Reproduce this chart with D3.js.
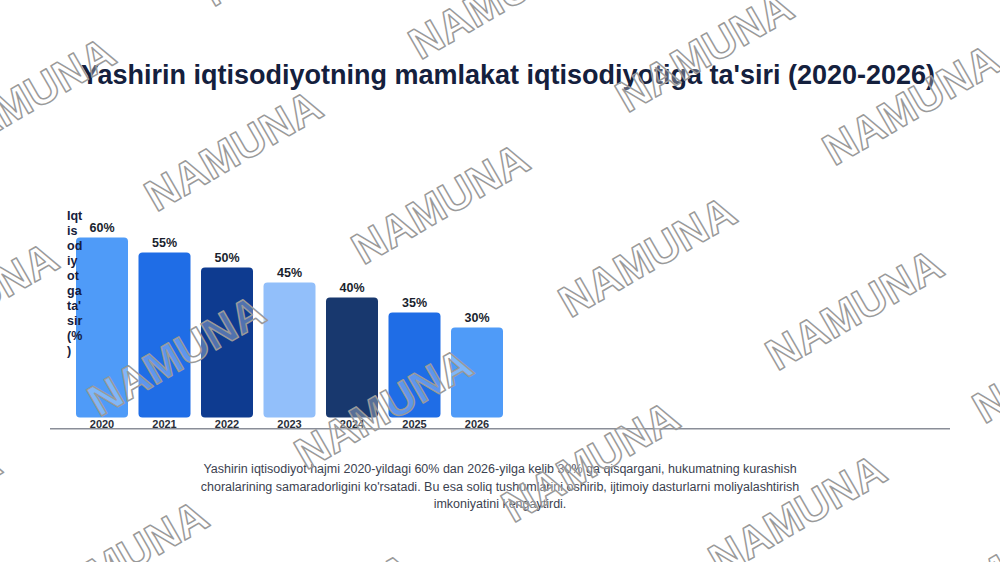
<!DOCTYPE html>
<html>
<head>
<meta charset="utf-8">
<script src="https://cdn.jsdelivr.net/npm/d3@7"></script>
<style>
  html, body { margin: 0; padding: 0; background: #ffffff; }
  svg { display: block; }
</style>
</head>
<body>
<svg id="chart" width="1000" height="562"></svg>
<script>
// ---- data ----
const categories = ["2020", "2021", "2022", "2023", "2024", "2025", "2026"];
const values = [60, 55, 50, 45, 40, 35, 30];
const barColors = ["#4f9bf8", "#1f6de6", "#0e3b90", "#92bffa", "#18386e", "#1f6de6", "#4f9bf8"];
const titleText = "Yashirin iqtisodiyotning mamlakat iqtisodiyotiga ta'siri (2020-2026)";
const yLabelLines = ["Iqt", "is", "od", "iy", "ot", "ga", "ta'", "sir", "(%", ")"];
const captionLines = [
  "Yashirin iqtisodiyot hajmi 2020-yildagi 60% dan 2026-yilga kelib 30% ga qisqargani, hukumatning kurashish",
  "choralarining samaradorligini ko'rsatadi. Bu esa soliq tushumlarini oshirib, ijtimoiy dasturlarni moliyalashtirish",
  "imkoniyatini kengaytirdi."
];
const watermarkText = "NAMUNA";

// ---- layout ----
const svg = d3.select("#chart");
const W = 1000, H = 562;
const font = "'Liberation Sans', Arial, Helvetica, sans-serif";

svg.append("rect").attr("width", W).attr("height", H).attr("fill", "#ffffff");

// title
svg.append("text")
  .attr("x", 508).attr("y", 84)
  .attr("text-anchor", "middle")
  .attr("font-family", font).attr("font-weight", "bold")
  .attr("font-size", 27).attr("fill", "#14203d")
  .text(titleText);

// scales
const x = d3.scaleBand().domain(categories).range([70.75, 508.25]).paddingInner(0.168).paddingOuter(0.084);
const y = d3.scaleLinear().domain([0, 100]).range([417.5, 117.5]);

// bars
const g = svg.append("g");
g.selectAll("rect.bar").data(values).join("rect")
  .attr("class", "bar")
  .attr("x", (d, i) => x(categories[i]))
  .attr("y", d => y(d))
  .attr("width", x.bandwidth())
  .attr("height", d => y(0) - y(d))
  .attr("rx", 4).attr("ry", 4)
  .attr("fill", (d, i) => barColors[i]);

// value labels
g.selectAll("text.val").data(values).join("text")
  .attr("class", "val")
  .attr("x", (d, i) => x(categories[i]) + x.bandwidth() / 2)
  .attr("y", d => y(d) - 6)
  .attr("text-anchor", "middle")
  .attr("font-family", font).attr("font-weight", "bold")
  .attr("font-size", 12.5).attr("fill", "#1a1f2e")
  .text(d => d + "%");

// x axis baseline
svg.append("line")
  .attr("x1", 50).attr("x2", 950).attr("y1", 428.7).attr("y2", 428.7)
  .attr("stroke", "#8a8e98").attr("stroke-width", 1.5);

// x axis labels through d3 axis
const xAxis = d3.axisBottom(x).tickSize(0).tickPadding(0);
const ax = svg.append("g").attr("transform", "translate(0,420)").call(xAxis);
ax.select(".domain").remove();
ax.selectAll("text")
  .attr("dy", "0.71em")
  .attr("font-family", font).attr("font-weight", "bold")
  .attr("font-size", 11).attr("fill", "#2a2f3a");

// y label (wrapped)
const yl = svg.append("text")
  .attr("font-family", font).attr("font-weight", "bold")
  .attr("font-size", 12.5).attr("fill", "#14203d");
yLabelLines.forEach((t, i) => {
  yl.append("tspan").attr("x", 67).attr("y", 220 + i * 15).text(t);
});

// caption
const cap = svg.append("text")
  .attr("text-anchor", "middle")
  .attr("font-family", font)
  .attr("font-size", 12.5).attr("fill", "#3c4250");
captionLines.forEach((t, i) => {
  cap.append("tspan").attr("x", 500).attr("y", 473 + i * 17.5).text(t);
});

// watermarks
const wm = svg.append("g").attr("pointer-events", "none");
const base = [233, 150], stepI = [207, 53], stepJ = [-57, 205];
const pts = [];
for (let j = -2; j <= 3; j++) {
  for (let i = -3; i <= 6; i++) {
    const cx = base[0] + i * stepI[0] + j * stepJ[0];
    const cy = base[1] + i * stepI[1] + j * stepJ[1];
    if (cx > -150 && cx < 1150 && cy > -80 && cy < 650) pts.push([cx, cy]);
  }
}
wm.selectAll("text").data(pts).join("text")
  .attr("transform", d => `translate(${d[0]},${d[1]}) rotate(-30)`)
  .attr("text-anchor", "middle")
  .attr("dy", "0.36em")
  .attr("font-family", font).attr("font-weight", "bold")
  .attr("font-size", 44)
  .attr("fill", "rgba(255,255,255,0.3)")
  .attr("stroke", "#9a9a9a").attr("stroke-width", 1.5)
  .attr("stroke-linejoin", "round")
  .text(watermarkText);
</script>
</body>
</html>
